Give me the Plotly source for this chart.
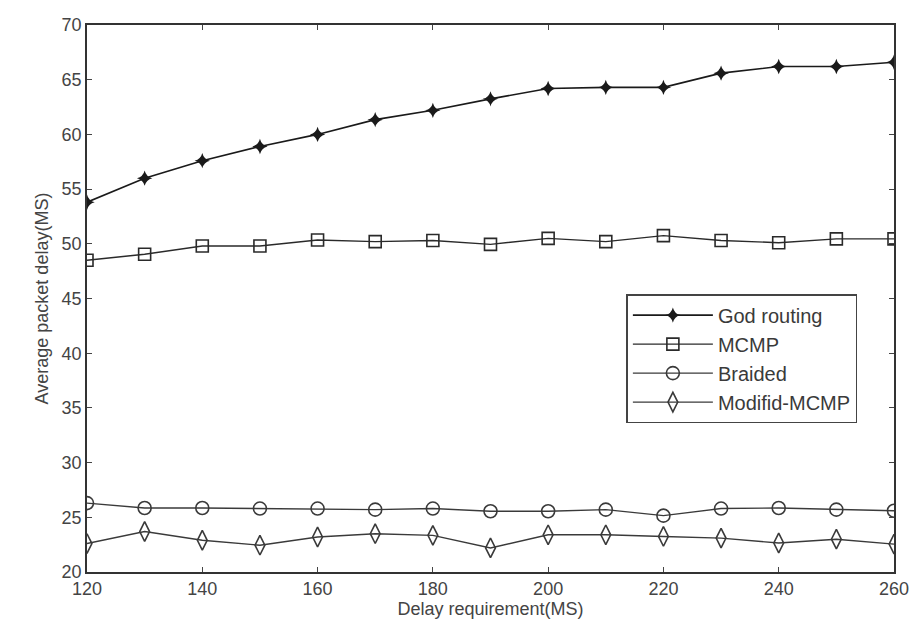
import plotly.graph_objects as go

delay_req = [120, 130, 140, 150, 160, 170, 180, 190, 200, 210, 220, 230, 240, 250, 260]
god_routing = [53.8, 56.0, 57.6, 58.9, 60.0, 61.35, 62.2, 63.25, 64.2, 64.3, 64.3, 65.6, 66.2, 66.2, 66.6]
mcmp = [48.5, 49.05, 49.8, 49.8, 50.35, 50.2, 50.3, 49.95, 50.5, 50.2, 50.75, 50.3, 50.1, 50.45, 50.45]
braided = [26.3, 25.85, 25.85, 25.8, 25.8, 25.7, 25.8, 25.55, 25.55, 25.7, 25.15, 25.8, 25.85, 25.7, 25.6]
modifid_mcmp = [22.6, 23.7, 22.9, 22.45, 23.2, 23.5, 23.35, 22.2, 23.4, 23.4, 23.25, 23.1, 22.65, 23.0, 22.55]

x_ticks = [120, 140, 160, 180, 200, 220, 240, 260]
y_ticks = [20, 25, 30, 35, 40, 45, 50, 55, 60, 65, 70]

fig = go.Figure()
fig.add_trace(go.Scatter(x=delay_req, y=god_routing, name="God routing", mode="lines+markers",
                         line=dict(color="#1a1a1a", width=1.6),
                         marker=dict(symbol="star-diamond", size=11, color="#1a1a1a")))
fig.add_trace(go.Scatter(x=delay_req, y=mcmp, name="MCMP", mode="lines+markers",
                         line=dict(color="#2a2a2a", width=1.4),
                         marker=dict(symbol="square-open", size=12, color="#2a2a2a", line=dict(width=1.6))))
fig.add_trace(go.Scatter(x=delay_req, y=braided, name="Braided", mode="lines+markers",
                         line=dict(color="#3a3a3a", width=1.4),
                         marker=dict(symbol="circle-open", size=13, color="#3a3a3a", line=dict(width=1.6))))
fig.add_trace(go.Scatter(x=delay_req, y=modifid_mcmp, name="Modifid-MCMP", mode="lines+markers",
                         line=dict(color="#3a3a3a", width=1.4),
                         marker=dict(symbol="diamond-tall-open", size=14, color="#3a3a3a", line=dict(width=1.6))))

fig.update_layout(
    width=921, height=642,
    margin=dict(l=87, r=25, t=25, b=70),
    paper_bgcolor="white", plot_bgcolor="white",
    font=dict(family="Liberation Sans, Arial, sans-serif", size=19, color="#444444"),
    showlegend=True,
    legend=dict(x=0.8115, y=0.508, xanchor="center", yanchor="top",
                bgcolor="white", bordercolor="#444444", borderwidth=1.5,
                font=dict(size=20, color="#3a3a3a"), tracegroupgap=0,
                itemwidth=80),
)
fig.update_xaxes(range=[120, 260], tickvals=x_ticks, ticks="inside", ticklen=5,
                 showline=True, linecolor="#333333", linewidth=1.5, mirror="ticks",
                 showgrid=False, zeroline=False,
                 title=dict(text="Delay requirement(MS)", font=dict(size=18), standoff=0),
                 tickfont=dict(size=18))
fig.update_yaxes(range=[20, 70], tickvals=y_ticks, ticks="inside", ticklen=5,
                 showline=True, linecolor="#333333", linewidth=1.5, mirror="ticks",
                 showgrid=False, zeroline=False,
                 title=dict(text="Average packet delay(MS)", font=dict(size=18), standoff=8),
                 tickfont=dict(size=18))

fig.write_html("out.html")
